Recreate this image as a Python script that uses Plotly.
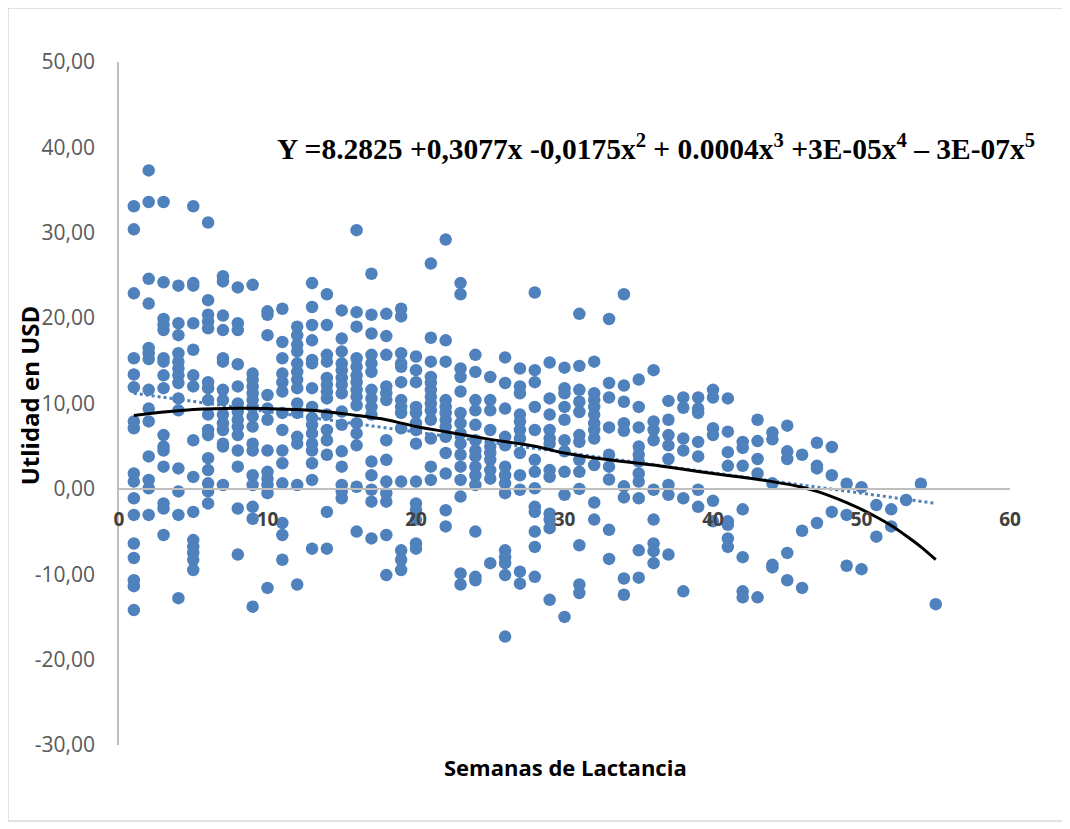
import plotly.graph_objects as go

semanas = list(range(1, 56))
utilidad_por_semana = [
    [33.1, 30.4, 22.9, 15.3, 13.4, 11.9, 7.9, 7.1, 1.8, 0.85, -1.1, -3.05, -6.4, -8.1, -10.7, -11.4, -14.2],
    [37.3, 33.6, 24.6, 21.7, 16.5, 15.9, 15.2, 11.6, 9.4, 7.9, 3.8, 1.05, 0.07, -3.05],
    [33.6, 24.2, 19.9, 19.2, 18.6, 15.3, 14.9, 13.3, 11.8, 6.3, 4.95, 4.5, 2.6, -1.7, -2.3, -5.4],
    [23.8, 19.4, 18.0, 15.9, 14.9, 14.1, 13.3, 12.4, 10.6, 9.2, 2.4, -0.3, -3.05, -12.8],
    [33.1, 24.1, 23.8, 19.4, 16.3, 13.3, 12.0, 5.7, 1.4, -2.7, -6.0, -6.8, -7.5, -8.3, -9.5],
    [31.2, 22.1, 20.4, 19.6, 18.8, 12.5, 11.8, 10.4, 8.7, 6.9, 6.3, 3.6, 2.2, 0.65, -0.3, -1.7],
    [24.9, 24.3, 20.3, 18.6, 15.3, 14.9, 11.6, 10.4, 8.7, 7.7, 6.9, 5.3, 4.95, 0.45],
    [23.6, 19.4, 18.6, 14.6, 12.0, 10.0, 9.05, 8.1, 7.3, 6.3, 4.5, 2.6, -2.3, -7.7],
    [23.9, 13.5, 12.8, 12.0, 11.2, 10.4, 9.6, 8.5, 7.3, 5.3, 4.5, 1.6, 0.45, -2.1, -3.5, -13.8],
    [20.8, 20.4, 18.0, 11.0, 9.4, 8.1, 4.5, 2.0, 1.2, 0.45, -0.5, -11.6],
    [21.1, 17.2, 15.3, 13.5, 12.5, 11.4, 8.9, 6.9, 4.5, 3.0, 0.65, -4.0, -5.4, -8.3],
    [19.0, 18.0, 16.9, 16.1, 14.7, 13.7, 12.8, 11.8, 10.0, 8.9, 6.1, 5.3, 0.45, -11.2],
    [24.1, 21.3, 19.2, 17.4, 15.1, 14.7, 11.8, 9.6, 8.3, 7.5, 6.5, 5.3, 4.5, 3.0, 1.05, -7.0],
    [22.8, 19.2, 15.7, 14.9, 13.0, 12.2, 11.4, 10.6, 8.7, 6.9, 5.7, 4.0, -2.7, -7.0],
    [20.9, 17.6, 16.1, 14.7, 13.9, 13.0, 12.2, 11.2, 9.05, 7.5, 4.4, 2.6, 0.45, -0.3, -1.1],
    [30.3, 20.7, 19.0, 15.3, 14.3, 13.3, 12.5, 11.6, 10.8, 9.8, 7.7, 6.5, 5.1, 0.25, -5.0],
    [25.2, 20.4, 18.2, 15.7, 14.7, 13.7, 11.6, 10.6, 9.6, 8.7, 3.2, 1.6, -0.1, -1.5, -5.8],
    [20.5, 17.9, 15.7, 12.0, 11.2, 10.4, 5.7, 3.4, 0.85, -0.5, -1.5, -5.4, -10.1],
    [21.1, 20.2, 15.9, 14.7, 14.3, 12.5, 10.4, 9.6, 8.9, 7.1, 0.85, -7.2, -8.3, -9.5],
    [15.5, 13.9, 12.5, 9.6, 8.9, 7.7, 6.9, 5.3, 0.85, -1.7, -2.5, -3.6, -6.4, -7.0],
    [26.4, 17.7, 14.9, 13.1, 12.4, 11.6, 10.8, 10.0, 9.2, 8.1, 5.9, 2.6, 1.05],
    [29.2, 17.4, 14.9, 10.4, 9.6, 8.9, 8.1, 7.3, 6.1, 4.2, 1.8, -2.5, -4.4],
    [24.1, 22.8, 14.1, 13.1, 11.4, 8.9, 7.7, 6.5, 5.3, 4.0, 2.6, 1.05, -0.9, -9.9, -11.2],
    [15.7, 13.7, 10.4, 9.2, 7.5, 5.7, 4.5, 3.8, 2.6, 1.6, 0.45, -5.0, -10.3, -10.7],
    [13.1, 10.4, 9.2, 6.9, 4.95, 4.2, 3.4, 2.2, 1.2, -8.7],
    [15.4, 12.4, 9.4, 6.1, 5.1, 2.6, 1.6, 0.65, -0.5, -7.2, -8.0, -8.7, -10.1, -17.3],
    [14.1, 12.0, 11.2, 8.7, 7.9, 6.9, 5.9, 4.2, 1.6, -0.1, -9.7, -11.1],
    [23.0, 13.9, 12.5, 9.6, 6.9, 3.4, 2.0, 0.07, -2.1, -2.7, -5.0, -6.8, -10.3],
    [14.8, 10.6, 8.7, 6.9, 5.9, 5.3, 2.2, 1.4, -2.9, -3.6, -4.6, -13.0],
    [14.2, 11.8, 11.2, 9.6, 8.1, 5.7, 4.4, 2.0, -0.7, -15.0],
    [20.5, 14.4, 11.6, 10.2, 9.0, 6.3, 5.5, 3.4, 2.0, 0.0, -6.6, -11.2, -12.2],
    [14.9, 11.2, 10.4, 9.6, 8.7, 7.7, 6.9, 5.9, 2.8, -1.6, -3.6],
    [19.9, 12.4, 10.7, 7.2, 4.0, 2.6, 1.1, -4.8, -8.2],
    [22.8, 12.1, 10.2, 7.7, 6.8, 0.3, -1.0, -10.5, -12.4],
    [12.8, 9.6, 7.2, 4.95, 4.0, 3.2, 1.8, 0.85, -1.1, -7.2, -10.4],
    [13.9, 7.9, 6.9, 5.7, -0.1, -3.6, -6.4, -7.3, -8.7],
    [10.3, 8.1, 6.3, 5.1, 3.5, 0.45, -0.7, -7.7],
    [10.7, 9.5, 5.9, 4.5, -1.1, -12.0],
    [10.7, 9.4, 8.9, 5.5, 3.8, -0.1, -2.1],
    [11.6, 10.7, 7.1, 6.3, -1.4, -3.8],
    [10.6, 6.7, 4.3, 2.7, -3.8, -4.2, -5.8, -6.8],
    [5.5, 4.8, 2.7, -2.4, -8.0, -12.0, -12.7],
    [8.1, 5.6, 3.5, 1.8, -12.7],
    [6.6, 5.8, 0.65, -8.9, -9.2],
    [7.4, 4.4, 3.5, -7.5, -10.7],
    [4.0, -4.9, -11.6],
    [5.4, 2.7, 2.4, -4.0],
    [4.9, 1.6, -2.7],
    [0.6, -3.05, -9.0],
    [0.2, -9.4],
    [-1.9, -5.6],
    [-2.4, -4.4],
    [-1.3],
    [0.6],
    [-13.5],
]

# polynomial trend
poli_x = [1, 3, 5, 8, 10, 13, 16, 18, 20, 22, 25, 28, 30, 33, 36, 38, 40, 42, 44, 46,
          47, 48, 49, 50, 51, 52, 53, 54, 55]
poli_y = [8.6, 9.0, 9.3, 9.45, 9.4, 9.2, 8.6, 8.1, 7.3, 6.7, 5.8, 5.0, 4.2, 3.4, 2.8, 2.3,
          1.8, 1.35, 0.85, 0.2, -0.3, -0.9, -1.6, -2.4, -3.3, -4.3, -5.5, -6.8, -8.3]

# linear trend (dotted)
lineal_x = [1, 55]
lineal_y = [11.2, -1.7]

y_ticks = [50, 40, 30, 20, 10, 0, -10, -20, -30]
y_ticktext = ["50,00", "40,00", "30,00", "20,00", "10,00", "0,00", "-10,00", "-20,00", "-30,00"]
x_ticks = [0, 10, 20, 30, 40, 50, 60]

ecuacion = ("Y =8.2825 +0,3077x -0,0175x<sup>2</sup> + 0.0004x<sup>3</sup> "
            "+3E-05x<sup>4</sup> \u2013 3E-07x<sup>5</sup>")

xs, ys = [], []
for s, vals in zip(semanas, utilidad_por_semana):
    for v in vals:
        xs.append(s)
        ys.append(v)

BLUE = "#4F81BD"

fig = go.Figure()
fig.add_trace(go.Scatter(x=lineal_x, y=lineal_y, mode="lines",
                         line=dict(color=BLUE, width=3, dash="dot"),
                         showlegend=False, hoverinfo="skip"))
fig.add_trace(go.Scatter(x=xs, y=ys, mode="markers",
                         marker=dict(color=BLUE, size=12.5, line=dict(width=0)),
                         showlegend=False))
fig.add_trace(go.Scatter(x=poli_x, y=poli_y, mode="lines",
                         line=dict(color="black", width=3, shape="spline", smoothing=0.8),
                         showlegend=False, hoverinfo="skip"))

fig.update_layout(
    width=1070, height=829,
    margin=dict(l=111, r=68, t=54, b=92),
    paper_bgcolor="white", plot_bgcolor="white",
    showlegend=False,
    xaxis=dict(range=[0, 60], tickvals=x_ticks, showgrid=False, zeroline=False,
               showline=True, linecolor="#BFBFBF", linewidth=1.5,
               anchor="free", position=(0 - (-30)) / 80.0,
               ticks="", ticklabelstandoff=14,
               tickfont=dict(family="Open Sans", size=19, color="#404040", weight="bold")),
    yaxis=dict(range=[-30, 50], tickvals=y_ticks, ticktext=y_ticktext, showgrid=False,
               zeroline=False, showline=True, linecolor="#BFBFBF", linewidth=1.5,
               ticks="", ticklabelstandoff=18,
               tickfont=dict(family="Open Sans", size=21, color="#595959")),
    annotations=[
        dict(text="<b>Utlidad en USD</b>", textangle=-90, x=-0.101, y=0.512,
             xref="paper", yref="paper", xanchor="center", yanchor="middle",
             showarrow=False,
             font=dict(family="Open Sans", size=24, color="black")),
        dict(text="<b>Semanas de Lactancia</b>", x=0.5006, y=-0.032,
             xref="paper", yref="paper", showarrow=False, xanchor="center", yanchor="middle",
             font=dict(family="Open Sans", size=22, color="black")),
        dict(text="<b>" + ecuacion + "</b>", x=0.175, y=0.8755, xref="paper", yref="paper",
             xanchor="left", yanchor="middle", showarrow=False,
             font=dict(family="Liberation Serif", size=29.5, color="black")),
    ],
    shapes=[
        dict(type="rect", xref="paper", yref="paper",
             x0=-0.1246, x1=1.0606, y0=-0.1113, y1=1.079,
             line=dict(color="#D9D9D9", width=1.5), fillcolor="rgba(0,0,0,0)"),
    ],
)

fig.write_html("out.html")
